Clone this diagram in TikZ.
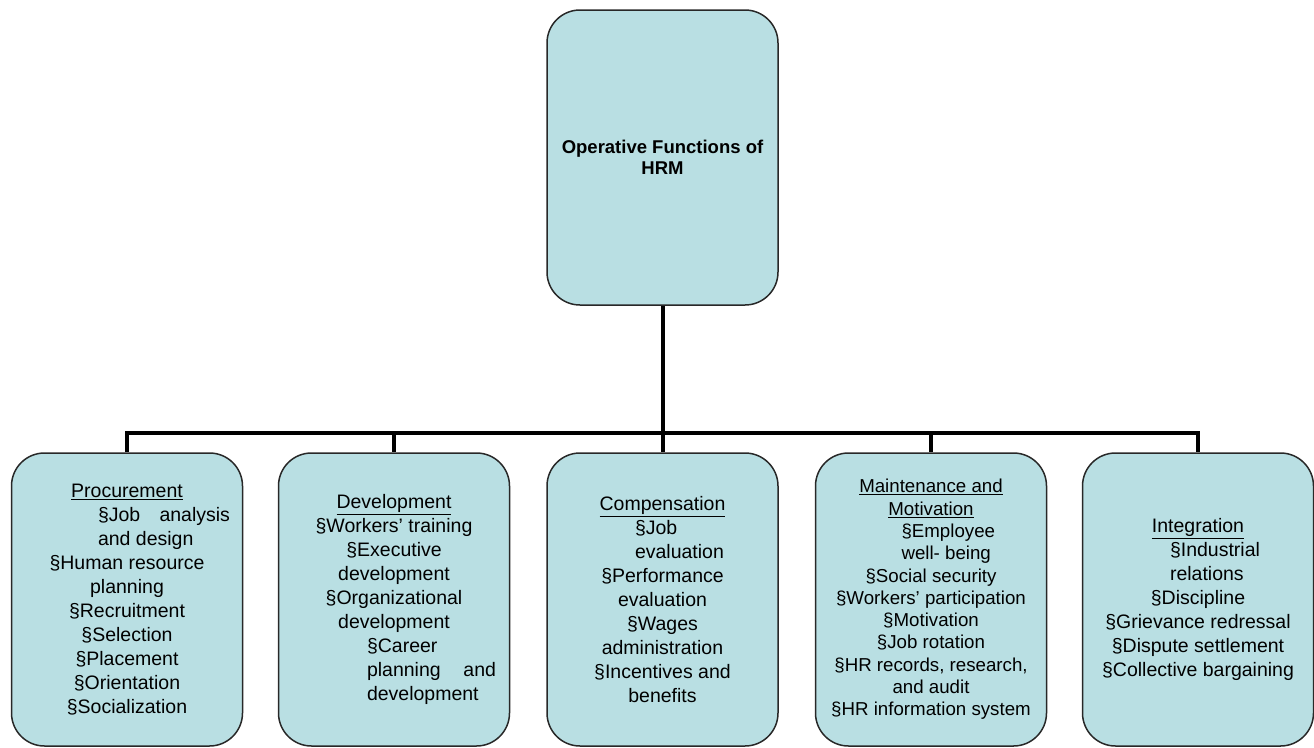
\documentclass[tikz,border=0pt]{standalone}
\usepackage{fontspec}
\setmainfont{Liberation Sans}
\definecolor{boxfill}{RGB}{185,223,227}
\definecolor{boxline}{RGB}{40,40,40}
\tikzset{
  fnbox/.style={draw=boxline, line width=1.5pt, fill=boxfill, rounded corners=33pt,
    minimum width=231pt, minimum height=293pt, inner sep=0pt, align=center,
    font=\fontsize{19.5}{24}\selectfont},
  headbox/.style={fnbox, minimum height=295pt, font=\bfseries\fontsize{18.5}{21}\selectfont},
  conn/.style={line width=4pt, black}
}
\begin{document}
\begin{tikzpicture}[x=1pt, y=-1pt]
\useasboundingbox (0,0) rectangle (1314,747);

% top level
\node[headbox] (hrm) at (662.5,157.5) {Operative Functions of\\HRM};

% the five operative functions
\node[fnbox] (proc) at (127,599.5) {%
  \underline{Procurement}\\
  \hspace*{74pt}\makebox[132pt][s]{§Job\hfill analysis}\\
  \hspace*{74pt}\makebox[132pt][l]{and design}\\
  §Human resource\\
  planning\\
  §Recruitment\\
  §Selection\\
  §Placement\\
  §Orientation\\
  §Socialization};

\node[fnbox] (dev) at (394,599.5) {%
  \underline{Development}\\
  §Workers’ training\\
  §Executive\\
  development\\
  §Organizational\\
  development\\
  \hspace*{75pt}\makebox[129pt][l]{§Career}\\
  \hspace*{75pt}\makebox[129pt][s]{planning\hfill and}\\
  \hspace*{75pt}\makebox[129pt][l]{development}};

\node[fnbox] (comp) at (662.5,599.5) {%
  \underline{Compensation}\\
  \hspace*{39pt}\makebox[94pt][l]{§Job}\\
  \hspace*{39pt}\makebox[94pt][l]{evaluation}\\
  §Performance\\
  evaluation\\
  §Wages\\
  administration\\
  §Incentives and\\
  benefits};

\node[fnbox, font=\fontsize{18.7}{22.3}\selectfont] (maint) at (931,599.5) {%
  \underline{Maintenance and}\\
  \underline{Motivation}\\
  \hspace*{35pt}\makebox[94pt][l]{§Employee}\\
  \hspace*{35pt}\makebox[94pt][l]{well- being}\\
  §Social security\\
  §Workers’ participation\\
  §Motivation\\
  §Job rotation\\
  §HR records, research,\\
  and audit\\
  §HR information system};

\node[fnbox] (integ) at (1198,599.5) {%
  \underline{Integration}\\
  \hspace*{38pt}\makebox[94pt][l]{§Industrial}\\
  \hspace*{38pt}\makebox[94pt][l]{relations}\\
  §Discipline\hspace*{17pt}\\
  §Grievance redressal\\
  §Dispute settlement\\
  §Collective bargaining};

% connector tree
\coordinate (bus) at (662.5,433);
\draw[conn] (hrm.south) -- (bus);
\draw[conn, line join=miter] (proc.north) -- (proc.north |- bus) -- (integ.north |- bus) -- (integ.north);
\draw[conn] (dev.north |- bus) -- (dev.north);
\draw[conn] (comp.north |- bus) -- (comp.north);
\draw[conn] (maint.north |- bus) -- (maint.north);
\end{tikzpicture}
\end{document}
